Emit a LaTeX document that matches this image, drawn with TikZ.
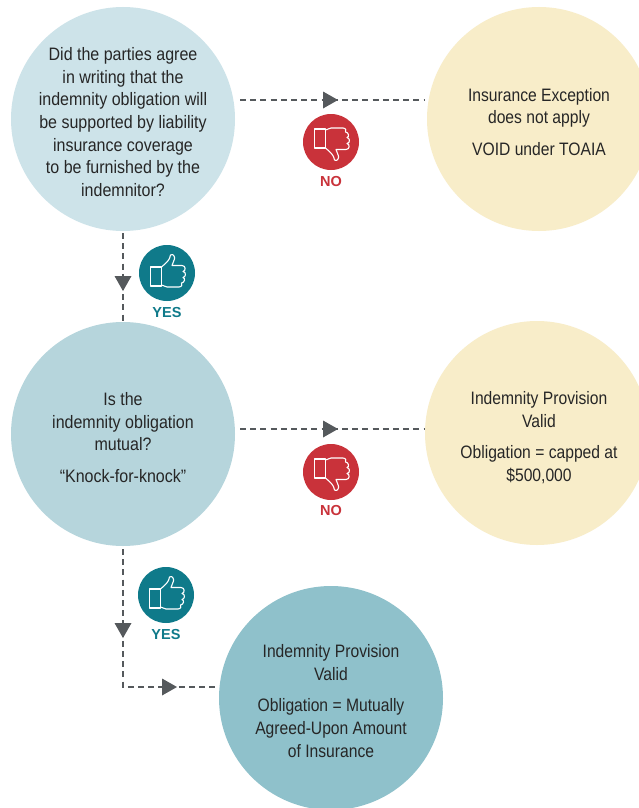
\documentclass[tikz,border=0pt]{standalone}
\usepackage{fontspec}
\setmainfont[FakeStretch=0.89]{Liberation Sans}
\newfontfamily\badgefont{Liberation Sans}
\newfontfamily\narrowfont[FakeStretch=0.87]{Liberation Sans}
\definecolor{cA}{HTML}{CDE3E9}
\definecolor{cB}{HTML}{B6D5DC}
\definecolor{cC}{HTML}{8FC1CB}
\definecolor{cY}{HTML}{F8EDC9}
\definecolor{cRed}{HTML}{C9323A}
\definecolor{cTeal}{HTML}{0F7A8A}
\definecolor{cLine}{HTML}{55595C}
\definecolor{cText}{HTML}{262626}
\tikzset{
  x=1pt,y=-1pt,
  bubble/.style={circle,draw=none,minimum size=224pt,inner sep=0pt},
  bubbletext/.style={align=center,text=cText,inner sep=0pt,font=\fontsize{18}{22.7}\selectfont},
  resulttext/.style={align=center,text=cText,inner sep=0pt,font=\narrowfont\fontsize{18}{22.7}\selectfont},
  badge/.style={circle,draw=none,minimum size=56pt,inner sep=0pt},
  yesno/.style={inner sep=0pt,font=\badgefont\bfseries\fontsize{14.5}{16}\selectfont},
  link/.style={draw=cLine,line width=1.7pt,dash pattern=on 6pt off 4.2pt},
  tipshape/.style={fill=cLine,draw=none},
  thumbline/.style={draw=white,line width=1.1pt,line join=round,fill=none}
}
\newcommand{\thumbshape}{%
  \draw[thumbline] (-16.5,-6) rectangle (-5.5,13);
  \draw[thumbline] (-5.5,-6) .. controls (-1,-10) and (3,-13) .. (3.5,-18)
    .. controls (6,-19.5) and (8,-17) .. (7.5,-14) -- (5,-7.5) -- (15,-7.5)
    .. controls (19,-7.5) and (19,-2) .. (16,-1.5)
    .. controls (19.5,-1) and (19,4) .. (16,4.5)
    .. controls (18.5,5) and (18,9.5) .. (14.5,10)
    .. controls (15.5,11) and (15,14) .. (12,14) -- (0,14) -- (-5.5,12);
}
\newcommand{\tipright}[1]{\fill[tipshape] (#1) ++(-7,-8.5) -- ++(15,8.5) -- ++(-15,8.5) -- cycle;}
\newcommand{\tipdown}[1]{\fill[tipshape] (#1) ++(-8.5,-7) -- ++(17,0) -- ++(-8.5,15) -- cycle;}
\begin{document}
\begin{tikzpicture}
\useasboundingbox (0,0) rectangle (639,808);
\fill[white] (0,0) rectangle (639,808);
% bubbles
\node[bubble,fill=cA] (q1) at (123,119) {};
\node[bubble,fill=cB] (q2) at (123,434) {};
\node[bubble,fill=cC] (r3) at (331,698) {};
\node[bubble,fill=cY] (r1) at (539,119) {};
\node[bubble,fill=cY] (r2) at (537,433) {};
% texts
\node[bubbletext] (t1) at (123,122) {Did the parties agree\\in writing that the\\indemnity obligation will\\be supported by liability\\insurance coverage\\to be furnished by the\\indemnitor?};
\node[bubbletext] (t2) at (123,437.5) {Is the\\indemnity obligation\\mutual?\\[9pt]``Knock-for-knock''};
\node[resulttext] (t3) at (331,701) {Indemnity Provision\\Valid\\[9pt]Obligation = Mutually\\Agreed-Upon Amount\\of Insurance};
\node[resulttext] (t4) at (539,122) {Insurance Exception\\does not apply\\[9pt]VOID under TOAIA};
\node[resulttext] (t5) at (539,437.5) {Indemnity Provision\\Valid\\[9pt]Obligation = capped at\\\$500,000};
% connectors
\coordinate (a1) at (240,100);
\coordinate (a2) at (424,100);
\coordinate (b1) at (240,429);
\coordinate (b2) at (424,429);
\coordinate (c1) at (123,233);
\coordinate (d1) at (123,549);
\coordinate (bend) at (123,687);
\coordinate (e2) at (219,687);
\draw[link] (a1) -- (a2);
\draw[link] (b1) -- (b2);
\draw[link] (c1) -- (q2.north);
\draw[link] (d1) -- (bend) -- (e2);
\coordinate (ta) at (330,100);
\coordinate (tb) at (330,429);
\coordinate (tc) at (123,283);
\coordinate (td) at (123,630);
\coordinate (te) at (169,687);
\tipright{ta}
\tipright{tb}
\tipdown{tc}
\tipdown{td}
\tipright{te}
% badges
\node[badge,fill=cRed] (n1) at (331,142) {};
\begin{scope}[shift={(n1.center)},yscale=-1]\thumbshape\end{scope}
\node[yesno,text=cRed] (n1t) at (331,181.7) {NO};
\node[badge,fill=cRed] (n2) at (331,472) {};
\begin{scope}[shift={(n2.center)},yscale=-1]\thumbshape\end{scope}
\node[yesno,text=cRed] (n2t) at (331,510.7) {NO};
\node[badge,fill=cTeal] (y1) at (167,273) {};
\begin{scope}[shift={(y1.center)}]\thumbshape\end{scope}
\node[yesno,text=cTeal] (y1t) at (167,312.7) {YES};
\node[badge,fill=cTeal] (y2) at (166,595) {};
\begin{scope}[shift={(y2.center)}]\thumbshape\end{scope}
\node[yesno,text=cTeal] (y2t) at (166,634.7) {YES};
\end{tikzpicture}
\end{document}
